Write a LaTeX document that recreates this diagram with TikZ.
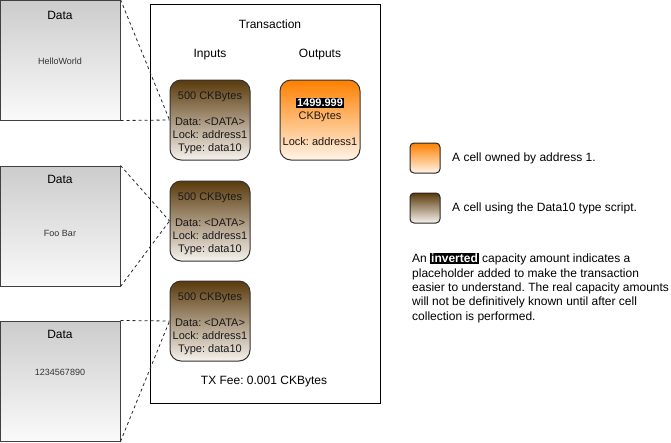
\documentclass[tikz,border=0pt]{standalone}
\usepackage{fontspec}
\setmainfont{Liberation Sans}
\usepackage{xcolor}
\usetikzlibrary{positioning, calc, shapes}
\definecolor{datatop}{HTML}{CCCCCC}
\definecolor{databot}{HTML}{FAFAFA}
\definecolor{browntop}{HTML}{5A3A0C}
\definecolor{brownmid}{HTML}{A3865F}
\definecolor{brownbot}{HTML}{F6F2ED}
\definecolor{orangetop}{HTML}{FF8000}
\definecolor{orangebot}{HTML}{FFF4E8}
\newcommand{\inv}[1]{{\setlength{\fboxsep}{1pt}\colorbox{black}{\textcolor{white}{\textbf{#1}}}}}
\newcommand{\cellfont}{\fontsize{11}{13}\selectfont}
\frenchspacing
\tikzset{
  x=1pt, y=-1pt,
  databox/.style={draw=black!75, line width=1pt, top color=datatop, bottom color=databot,
    minimum width=120pt, minimum height=120pt, inner sep=0pt},
  datatext/.style={font=\fontsize{9}{11}\selectfont, text=black!80},
  cellbox/.style={draw=black!80, line width=1pt, rounded corners=11pt,
    minimum width=80pt, minimum height=80pt, inner sep=0pt},
  celltext/.style={align=center, font=\cellfont, text=black!90, inner sep=0pt},
  browncell/.style={cellbox, top color=browntop, middle color=brownmid, bottom color=brownbot},
  orangecell/.style={cellbox, top color=orangetop, bottom color=orangebot},
  keybox/.style={draw=black!85, line width=1pt, rounded corners=4pt,
    minimum width=30pt, minimum height=30pt, inner sep=0pt},
  label/.style={font=\fontsize{12}{14}\selectfont},
  link/.style={draw=black!85, line width=0.8pt, dash pattern=on 3pt off 3pt}
}

\begin{document}
\begin{tikzpicture}
    \useasboundingbox (0,0) rectangle (671,442);

    % data boxes
    \node[databox] (hello) at (60,60) {};
    \node[label] (hellotitle) at (60,15) {Data};
    \node[datatext] (hellotext) at (60,61) {HelloWorld};

    \node[databox] (foo) at (60,226) {};
    \node[label] (footitle) at (60,179) {Data};
    \node[datatext] (footext) at (60,233) {Foo Bar};

    \node[databox] (nums) at (60,381) {};
    \node[label] (numstitle) at (60,334) {Data};
    \node[datatext] (numstext) at (60,372) {1234567890};

    % transaction
    \node[draw, line width=1pt, minimum width=230pt, minimum height=399pt, inner sep=0pt] (tx) at (265,203.5) {};
    \node[label] (txtitle) at (270,24) {Transaction};
    \node[label] (inputs) at (210,55) {Inputs};
    \node[label] (outputs) at (320,55) {Outputs};

    \node[browncell] (in1) at (210,120) {};
    \node[celltext] (in1text) at (210,123) {500 CKBytes\\[13pt]Data: <DATA>\\Lock: address1\\Type: data10};
    \node[browncell] (in2) at (210,221) {};
    \node[celltext] (in2text) at (210,224) {500 CKBytes\\[13pt]Data: <DATA>\\Lock: address1\\Type: data10};
    \node[browncell] (in3) at (210,321) {};
    \node[celltext] (in3text) at (210,324) {500 CKBytes\\[13pt]Data: <DATA>\\Lock: address1\\Type: data10};
    \node[orangecell] (out1) at (320,120) {};
    \node[celltext] (out1text) at (320,122) {\inv{1499.999}\\CKBytes\\[13pt]Lock: address1};

    \node[label] (fee) at (264,382) {TX Fee: 0.001 CKBytes};

    \path[link]
    (hello.north east) -- (in1.west)
    (hello.south east) -- (in1.west)
    (foo.north east) -- (in2.west)
    (foo.south east) -- (in2.west)
    (nums.north east) -- (in3.west)
    (nums.south east) -- (in3.west);

    % legend
    \node[keybox, top color=orangetop, bottom color=orangebot] (keyorange) at (425,158) {};
    \node[label, anchor=west, inner sep=0pt] (keyorangetext) at (452,158) {A cell owned by address 1.};
    \node[keybox, top color=browntop, middle color=brownmid, bottom color=brownbot] (keybrown) at (425,208) {};
    \node[label, anchor=west, inner sep=0pt] (keybrowntext) at (452,208) {A cell using the Data10 type script.};

    \node[anchor=north west, inner sep=0pt, align=left, font=\fontsize{12}{14.3}\selectfont] (note) at (412,253)
    {An \inv{inverted} capacity amount indicates a\\placeholder added to make the transaction\\easier to understand. The real capacity amounts\\will not be definitively known until after cell\\collection is performed.};
  \end{tikzpicture}
\end{document}
